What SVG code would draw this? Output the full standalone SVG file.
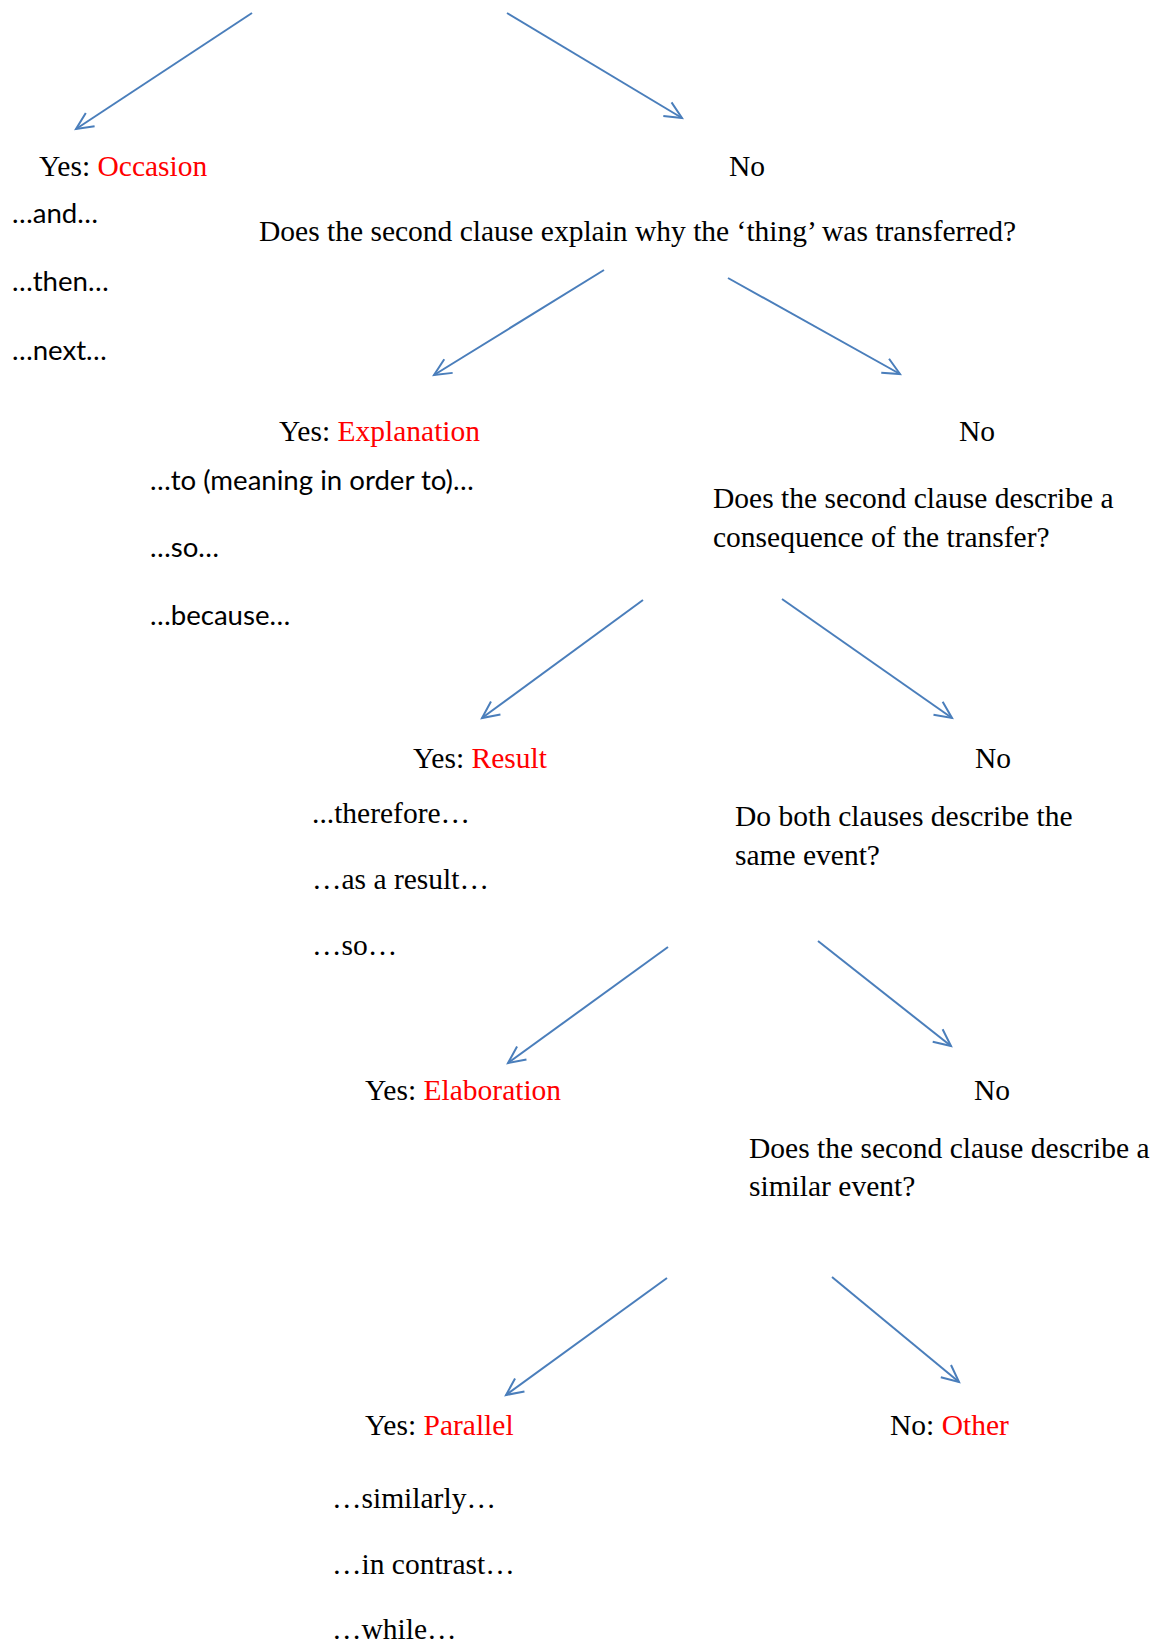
<svg xmlns="http://www.w3.org/2000/svg" width="1162" height="1644" viewBox="0 0 1162 1644">
<style>
.t{font-family:"Liberation Serif","Times New Roman",serif;font-size:29.5px;fill:#000}
.s{font-family:Lato,"Liberation Sans",sans-serif;font-size:27.6px;fill:#000}
.r{fill:#FF0000}
.c line{stroke:#4A7EBB;stroke-width:2;fill:none}
</style>
<defs>
<marker id="ah" markerUnits="userSpaceOnUse" markerWidth="40" markerHeight="40" refX="0" refY="0" viewBox="-20 -20 40 40" orient="auto" overflow="visible">
<path d="M-17,-8 L0,0 L-17,8" fill="none" stroke="#4A7EBB" stroke-width="2"/>
</marker>
</defs>
<rect width="1162" height="1644" fill="#fff"/>
<g id="connectors" class="c">
<line x1="252" y1="13" x2="76" y2="129" marker-end="url(#ah)"/>
<line x1="507" y1="13" x2="682" y2="118" marker-end="url(#ah)"/>
<line x1="604" y1="270" x2="434" y2="375" marker-end="url(#ah)"/>
<line x1="728" y1="278" x2="900" y2="374" marker-end="url(#ah)"/>
<line x1="643" y1="600" x2="482" y2="718" marker-end="url(#ah)"/>
<line x1="782" y1="599" x2="952" y2="718" marker-end="url(#ah)"/>
<line x1="668" y1="947" x2="508" y2="1063" marker-end="url(#ah)"/>
<line x1="818" y1="941" x2="951" y2="1046" marker-end="url(#ah)"/>
<line x1="667" y1="1278" x2="506" y2="1395" marker-end="url(#ah)"/>
<line x1="832" y1="1277" x2="959" y2="1382" marker-end="url(#ah)"/>
</g>
<g id="occasion">
<text class="t" x="39" y="176">Yes: <tspan class="r">Occasion</tspan></text>
<text class="s" x="12" y="223">…and…</text>
<text class="s" x="12" y="291">…then…</text>
<text class="s" x="12" y="360">…next…</text>
</g>
<g id="no1"><text class="t" x="729" y="176">No</text></g>
<g id="q1"><text class="t" x="259" y="241">Does the second clause explain why the ‘thing’ was transferred?</text></g>
<g id="explanation">
<text class="t" x="279" y="441">Yes: <tspan class="r">Explanation</tspan></text>
<text class="s" x="150" y="490">…to (meaning in order to)…</text>
<text class="s" x="150" y="557">…so…</text>
<text class="s" x="150" y="625">…because…</text>
</g>
<g id="no2"><text class="t" x="959" y="441">No</text></g>
<g id="q2">
<text class="t" x="713" y="508">Does the second clause describe a</text>
<text class="t" x="713" y="547">consequence of the transfer?</text>
</g>
<g id="result">
<text class="t" x="413" y="768">Yes: <tspan class="r">Result</tspan></text>
<text class="t" x="312" y="823">...therefore…</text>
<text class="t" x="312" y="889">…as a result…</text>
<text class="t" x="312" y="955">…so…</text>
</g>
<g id="no3"><text class="t" x="975" y="768">No</text></g>
<g id="q3">
<text class="t" x="735" y="826">Do both clauses describe the</text>
<text class="t" x="735" y="865">same event?</text>
</g>
<g id="elaboration"><text class="t" x="365" y="1100">Yes: <tspan class="r">Elaboration</tspan></text></g>
<g id="no4"><text class="t" x="974" y="1100">No</text></g>
<g id="q4">
<text class="t" x="749" y="1158">Does the second clause describe a</text>
<text class="t" x="749" y="1196">similar event?</text>
</g>
<g id="parallel">
<text class="t" x="365" y="1435">Yes: <tspan class="r">Parallel</tspan></text>
<text class="t" x="332" y="1508">…similarly…</text>
<text class="t" x="332" y="1574">…in contrast…</text>
<text class="t" x="332" y="1639">…while…</text>
</g>
<g id="other"><text class="t" x="890" y="1435">No: <tspan class="r">Other</tspan></text></g>
</svg>
